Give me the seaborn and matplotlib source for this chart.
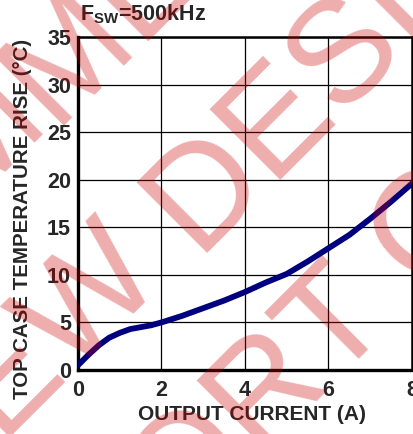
import matplotlib
matplotlib.use("Agg")
import matplotlib.pyplot as plt
import seaborn as sns

current = [0, 0.25, 0.5, 0.75, 1.0, 1.25, 1.5, 1.75, 2.0, 2.5, 3.0, 3.5,
           4.0, 4.5, 5.0, 5.5, 6.0, 6.5, 7.0, 7.5, 8.0]
temp_rise = [0.5, 1.6, 2.6, 3.4, 3.9, 4.3, 4.5, 4.7, 5.0, 5.7, 6.5, 7.3,
             8.2, 9.2, 10.1, 11.4, 12.8, 14.2, 15.9, 17.7, 19.6]
x_ticks = [0, 2, 4, 6, 8]
y_ticks = [0, 5, 10, 15, 20, 25, 30, 35]

sns.set_style("white")
plt.rcParams['font.family'] = ['Liberation Sans', 'DejaVu Sans']
plt.rcParams['mathtext.fontset'] = 'custom'
plt.rcParams['mathtext.rm'] = 'Liberation Sans:bold'

W, H = 414, 434
fig = plt.figure(figsize=(W / 100, H / 100), dpi=100)
ax = fig.add_axes([78 / W, 1 - 370 / H, 334 / W, 333 / H])

sns.lineplot(x=current, y=temp_rise, ax=ax, color='#00007f', lw=4.2,
             solid_capstyle='round', zorder=5)

ax.set_xlim(0, 8)
ax.set_ylim(0, 35)
ax.set_xticks(x_ticks)
ax.set_yticks(y_ticks)
ax.grid(True, color='black', lw=0.9)
ax.tick_params(length=0, labelsize=15.5)
ax.tick_params(axis='x', pad=7)
ax.tick_params(axis='y', pad=5)
for lab in ax.get_xticklabels() + ax.get_yticklabels():
    lab.set_fontweight('bold')
for side, w in [('left', 2.4), ('bottom', 2.4), ('top', 1.8), ('right', 1.8)]:
    ax.spines[side].set_visible(True)
    ax.spines[side].set_color('black')
    ax.spines[side].set_linewidth(w)

ax.set_xlabel("OUTPUT CURRENT (A)", fontsize=15, fontweight='bold')
ax.set_ylabel("TOP CASE TEMPERATURE RISE (°C)", fontsize=14.8, fontweight='bold')
ax.xaxis.set_label_coords(0.52, -0.105)
ax.yaxis.set_label_coords(-0.138, 0.455)

fig.text(80 / W, 1 - 20 / H, r'F$_{\mathrm{SW}}$=500kHz', fontsize=15.5,
         fontweight='bold', va='baseline', ha='left')


# diagonal watermark, anchored on letters seen in the reference
def px(x, y):
    return x / W, 1 - y / H


def mark(txt, x, y, ha):
    fig.text(*px(x, y), txt, rotation=45, rotation_mode='anchor', ha=ha,
             va='baseline', fontsize=104, color='#cc0000', alpha=0.32,
             zorder=10)


mark("NOT RECOM", 52, 126, 'right')
mark("MENDED", 52, 126, 'left')
mark("FOR NEW", 167, 281, 'right')
mark("DESIGNS", 195, 253, 'left')
mark("TECHNICAL SUPPOR", 333, 385, 'right')
mark("T CENTER", 333, 385, 'left')

fig.savefig("out.png", dpi=100)
